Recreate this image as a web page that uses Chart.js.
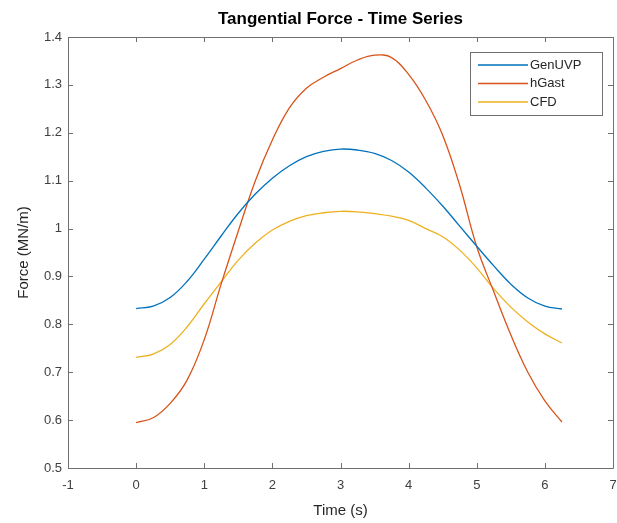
<!DOCTYPE html>
<html><head><meta charset="utf-8">
<script src="https://cdn.jsdelivr.net/npm/chart.js@4/dist/chart.umd.min.js"></script>
<style>html,body{margin:0;padding:0;background:#fff}#wrap{width:617px;height:523px;position:relative}</style>
</head><body><div id="wrap"><canvas id="c" width="617" height="523"></canvas></div>
<script>
const chartTitle = 'Tangential Force - Time Series';
const xLabel = 'Time (s)';
const yLabel = 'Force (MN/m)';
const seriesNames = ['GenUVP', 'hGast', 'CFD'];
const seriesColors = ['#0072BD', '#D95319', '#EDB120'];
const time = [0, 0.25, 0.5, 0.75, 1, 1.25, 1.5, 1.75, 2, 2.25, 2.5, 2.75, 3, 3.25, 3.5, 3.75, 4, 4.25, 4.5, 4.75, 5, 5.25, 5.5, 5.75, 6, 6.25];
const genUVP = [0.833, 0.838, 0.856, 0.890, 0.936, 0.985, 1.032, 1.072, 1.105, 1.131, 1.150, 1.161, 1.166, 1.164, 1.157, 1.142, 1.118, 1.085, 1.047, 1.005, 0.963, 0.922, 0.884, 0.855, 0.838, 0.832];
const hGast  = [0.595, 0.605, 0.635, 0.684, 0.768, 0.885, 0.995, 1.100, 1.185, 1.252, 1.293, 1.316, 1.334, 1.352, 1.362, 1.357, 1.322, 1.268, 1.195, 1.090, 0.962, 0.868, 0.778, 0.700, 0.640, 0.596];
const cfd    = [0.731, 0.738, 0.758, 0.795, 0.843, 0.889, 0.934, 0.970, 0.997, 1.015, 1.027, 1.033, 1.036, 1.035, 1.031, 1.026, 1.017, 1.000, 0.983, 0.955, 0.918, 0.874, 0.836, 0.805, 0.780, 0.761];
const xTicks = [-1, 0, 1, 2, 3, 4, 5, 6, 7];
const yTicks = [0.5, 0.6, 0.7, 0.8, 0.9, 1.0, 1.1, 1.2, 1.3, 1.4];

const seriesValues = [genUVP, hGast, cfd];
const datasets = seriesNames.map((name, i) => ({
  label: name,
  data: time.map((t, j) => ({x: t, y: seriesValues[i][j]})),
  borderColor: seriesColors[i],
  backgroundColor: seriesColors[i],
  borderWidth: 1.3,
  pointRadius: 0,
  fill: false,
  tension: 0.4
}));

const FONT = 'Liberation Sans, Arial, Helvetica, sans-serif';
const AXC = '#707070';
const boxPlugin = {
  id: 'matlabBox',
  afterDatasetsDraw(chart) {
    const ctx = chart.ctx, a = chart.chartArea;
    const xs = chart.scales.x, ys = chart.scales.y;
    ctx.save();
    ctx.strokeStyle = AXC;
    ctx.lineWidth = 1;
    ctx.beginPath();
    ctx.rect(Math.round(a.left) + 0.5, Math.round(a.top) + 0.5, Math.round(a.right - a.left), Math.round(a.bottom - a.top));
    ctx.stroke();
    const tl = 5;
    ctx.beginPath();
    xTicks.forEach(v => {
      const px = Math.round(xs.getPixelForValue(v)) + 0.5;
      ctx.moveTo(px, a.bottom); ctx.lineTo(px, a.bottom - tl);
      ctx.moveTo(px, a.top); ctx.lineTo(px, a.top + tl);
    });
    yTicks.forEach(v => {
      const py = Math.round(ys.getPixelForValue(v)) + 0.5;
      ctx.moveTo(a.left, py); ctx.lineTo(a.left + tl, py);
      ctx.moveTo(a.right, py); ctx.lineTo(a.right - tl, py);
    });
    ctx.stroke();
    // title
    ctx.fillStyle = '#000';
    ctx.font = 'bold 17px ' + FONT;
    ctx.textAlign = 'center';
    ctx.textBaseline = 'middle';
    ctx.fillText(chartTitle, (a.left + a.right) / 2, 19);
    // legend
    const lx = 470, ly = 52, lw = 132, lh = 63;
    ctx.fillStyle = '#fff';
    ctx.fillRect(lx, ly, lw, lh);
    ctx.strokeStyle = AXC;
    ctx.strokeRect(lx + 0.5, ly + 0.5, lw, lh);
    ctx.font = '13px ' + FONT;
    ctx.textAlign = 'left';
    chart.data.datasets.forEach((ds, i) => {
      const y = ly + 13 + i * 18.5;
      ctx.strokeStyle = ds.borderColor;
      ctx.lineWidth = 1.3;
      ctx.beginPath();
      ctx.moveTo(lx + 8, y); ctx.lineTo(lx + 58, y);
      ctx.stroke();
      ctx.fillStyle = '#262626';
      ctx.fillText(ds.label, lx + 60, y);
    });
    ctx.restore();
  }
};

new Chart(document.getElementById('c'), {
  type: 'line',
  data: { datasets },
  options: {
    responsive: false,
    devicePixelRatio: 1,
    animation: false,
    layout: { padding: { top: 37, right: 4, left: 0, bottom: 0 } },
    plugins: { legend: { display: false }, title: { display: false }, tooltip: { enabled: false } },
    scales: {
      x: {
        type: 'linear', min: -1, max: 7,
        afterBuildTicks: s => { s.ticks = xTicks.map(v => ({value: v})); },
        afterFit: s => { s.height = 55; s.paddingLeft = 0; s.paddingRight = 0; },
        grid: { display: false, tickLength: 0 }, border: { display: false },
        ticks: { color: '#404040', font: { family: FONT, size: 13 }, padding: 10, maxRotation: 0, callback: v => String(v) },
        title: { display: true, text: xLabel, color: '#262626', font: { family: FONT, size: 15 }, padding: { top: 0, bottom: 3 } }
      },
      y: {
        type: 'linear', min: 0.5, max: 1.4,
        afterBuildTicks: s => { s.ticks = yTicks.map(v => ({value: v})); },
        afterFit: s => { s.width = 68; s.paddingTop = 0; s.paddingBottom = 0; },
        grid: { display: false, tickLength: 0 }, border: { display: false },
        ticks: { color: '#404040', font: { family: FONT, size: 13 }, padding: 6, callback: v => String(Math.round(v * 10) / 10) },
        title: { display: true, text: yLabel, color: '#262626', font: { family: FONT, size: 15 }, padding: { top: 15, bottom: 0 } }
      }
    }
  },
  plugins: [boxPlugin]
});
</script>
</body></html>
